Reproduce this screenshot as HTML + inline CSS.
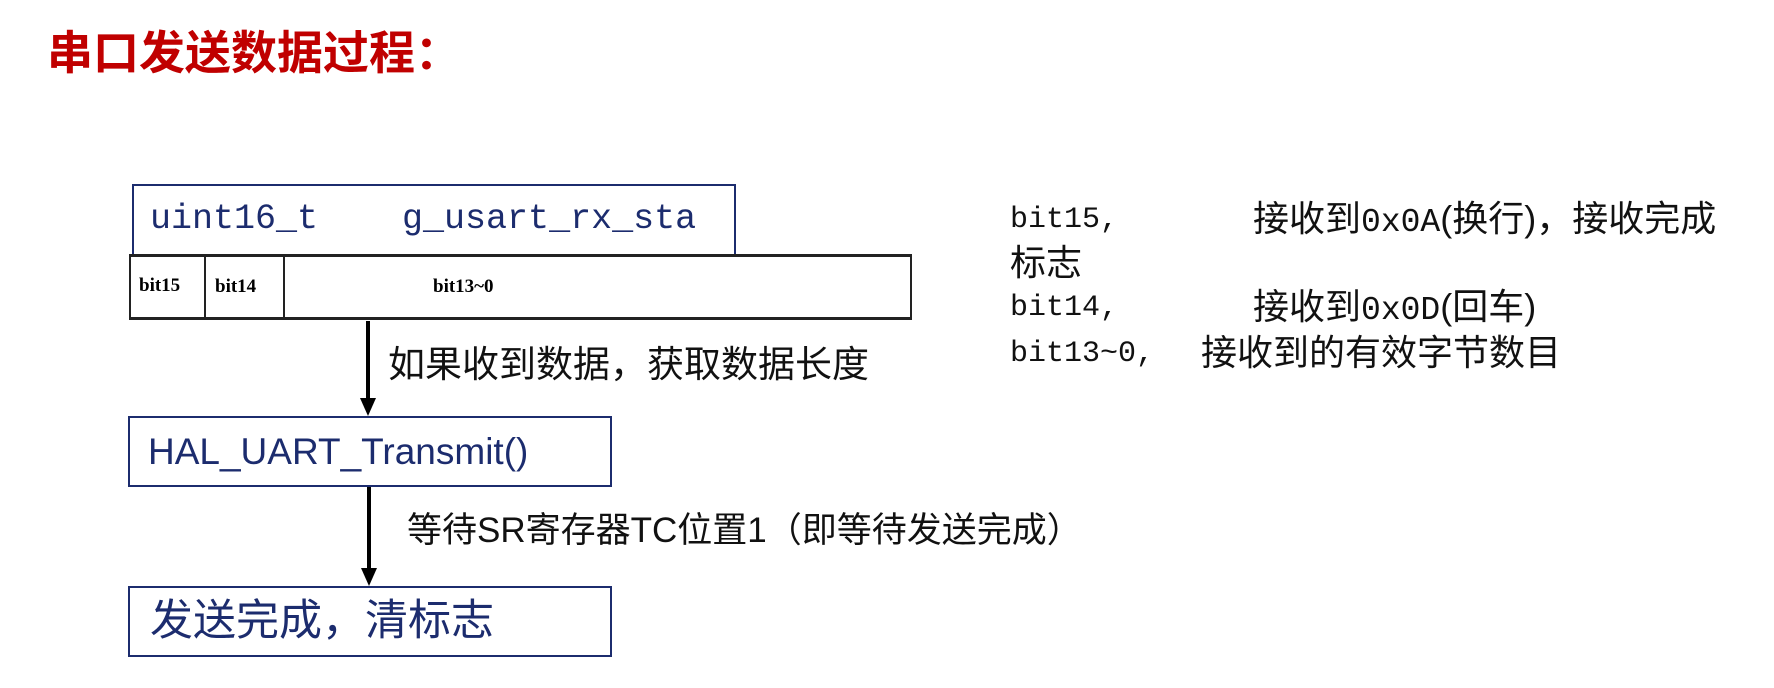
<!DOCTYPE html>
<html><head><meta charset="utf-8"><style>
body{margin:0;width:1774px;height:688px;background:#fff;position:relative;overflow:hidden;font-family:"Liberation Sans","Noto Sans CJK SC",sans-serif}
.a{position:absolute;white-space:pre;line-height:1}
.box{position:absolute;border:2px solid #1c2c6e;box-sizing:border-box}
.m{font-family:"Liberation Mono","Noto Sans CJK SC",monospace}
.r{font-size:30px;color:#111}
.c{font-size:36px;color:#111}
</style></head><body>
<div class="a" style="left:47px;top:30px;font-size:46px;font-weight:bold;color:#c00000">串口发送数据过程：</div>

<div class="box" style="left:132px;top:184px;width:604px;height:72px;border-bottom:none"></div>
<div class="a m" style="left:150px;top:202px;font-size:35px;color:#1c2c6e">uint16_t    g_usart_rx_sta</div>

<div class="box" style="left:129px;top:254px;width:783px;height:66px;border:2px solid #222;border-top-width:3px;border-bottom-width:3px"></div>
<div style="position:absolute;left:204px;top:255px;width:2px;height:64px;background:#222"></div>
<div style="position:absolute;left:283px;top:255px;width:2px;height:64px;background:#222"></div>
<div class="a" style="left:139px;top:276px;font-family:'Liberation Serif',serif;font-weight:bold;font-size:19px">bit15</div>
<div class="a" style="left:215px;top:277px;font-family:'Liberation Serif',serif;font-weight:bold;font-size:19px">bit14</div>
<div class="a" style="left:433px;top:277px;font-family:'Liberation Serif',serif;font-weight:bold;font-size:19px">bit13~0</div>

<svg style="position:absolute;left:0;top:0" width="1774" height="688">
<line x1="368" y1="321" x2="368" y2="400" stroke="#000" stroke-width="4"/>
<polygon points="360,398 376,398 368,416" fill="#000"/>
<line x1="369" y1="487" x2="369" y2="570" stroke="#000" stroke-width="4"/>
<polygon points="361,568 377,568 369,586" fill="#000"/>
</svg>
<div class="a" style="left:388px;top:346px;font-size:37px;color:#111">如果收到数据，获取数据长度</div>

<div class="box" style="left:128px;top:416px;width:484px;height:71px"></div>
<div class="a" style="left:148px;top:433px;font-size:37px;color:#1c2c6e">HAL_UART_Transmit()</div>

<div class="a" style="left:407px;top:513px;font-size:35px;color:#111">等待SR寄存器TC位置1（即等待发送完成）</div>

<div class="box" style="left:128px;top:586px;width:484px;height:71px"></div>
<div class="a" style="left:150px;top:600px;font-size:43px;color:#1c2c6e">发送完成，清标志</div>

<div class="a m r" style="left:1010px;top:205px">bit15,</div>
<div class="a c" style="left:1253px;top:201px">接收到<span class="m" style="font-size:33px">0x0A</span>(换行)，接收完成</div>
<div class="a c" style="left:1010px;top:245px">标志</div>
<div class="a m r" style="left:1010px;top:293px">bit14,</div>
<div class="a c" style="left:1253px;top:289px">接收到<span class="m" style="font-size:33px">0x0D</span>(回车)</div>
<div class="a m r" style="left:1010px;top:339px">bit13~0,</div>
<div class="a c" style="left:1201px;top:335px">接收到的有效字节数目</div>
</body></html>
